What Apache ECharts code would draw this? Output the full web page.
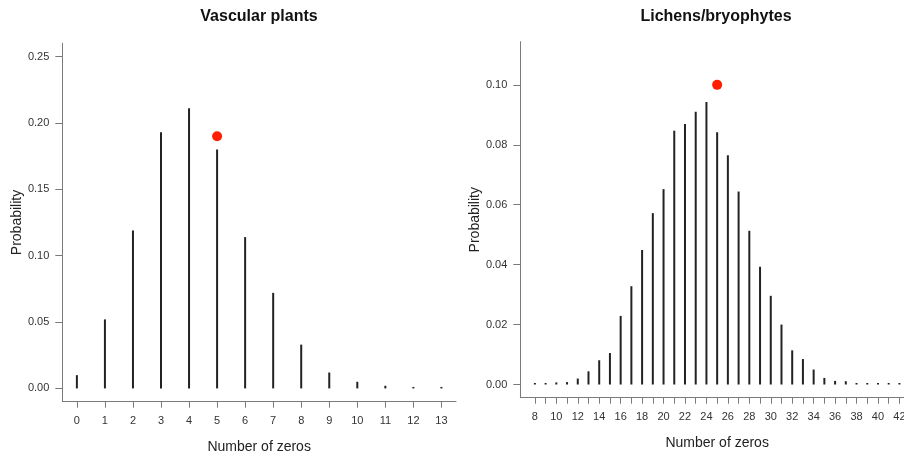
<!DOCTYPE html>
<html>
<head>
<meta charset="utf-8">
<script src="https://cdn.jsdelivr.net/npm/echarts@6/dist/echarts.min.js"></script>
<style>html,body{margin:0;padding:0;background:#fff;}#c{width:904px;height:457px;}</style>
</head>
<body>
<div id="c"></div>
<script>
// Vascular plants
const vascularX = [0,1,2,3,4,5,6,7,8,9,10,11,12,13];
const vascularP = [0.010,0.052,0.119,0.193,0.211,0.180,0.114,0.072,0.033,0.012,0.005,0.002,0.001,0.0005];
const vascularObs = [5, 0.190];
const vascularYTicks = [0,0.05,0.10,0.15,0.20,0.25];

// Lichens/bryophytes
const lichenX = [8,9,10,11,12,13,14,15,16,17,18,19,20,21,22,23,24,25,26,27,28,29,30,31,32,33,34,35,36,37,38,39,40,41,42];
const lichenP = [0.0002,0.0002,0.0007,0.0008,0.0020,0.0044,0.0081,0.0105,0.0229,0.0328,0.0449,0.0572,0.0652,0.0847,0.0869,0.0910,0.0943,0.0842,0.0765,0.0644,0.0513,0.0393,0.0296,0.0200,0.0114,0.0085,0.0050,0.0022,0.0012,0.0011,0.0002,0.0004,0.0002,0.0002,0.0002];
const lichenObs = [25, 0.100];
const lichenYTicks = [0,0.02,0.04,0.06,0.08,0.10];
const lichenXLabels = [8,10,12,14,16,18,20,22,24,26,28,30,32,34,36,38,40,42];

const axisColor = '#7a7a7a';
const labelColor = '#333';
const font = 'Liberation Sans, Arial, Helvetica, sans-serif';

function xAxisDef(gridIndex, min, max, ticks, labels) {
  return {
    type: 'value', gridIndex, min, max,
    name: 'Number of zeros', nameLocation: 'middle', nameGap: 38,
    nameTextStyle: {fontSize: 14, color: '#222', fontFamily: font},
    axisLine: {show: true, onZero: false, lineStyle: {color: axisColor, width: 1}},
    axisTick: {show: true, length: 6, customValues: ticks, lineStyle: {color: axisColor}},
    axisLabel: {show: true, customValues: labels, margin: 14, fontSize: 11, color: labelColor, fontFamily: font, hideOverlap: false},
    splitLine: {show: false}
  };
}
function yAxisDef(gridIndex, min, max, ticks) {
  return {
    type: 'value', gridIndex, min, max,
    name: 'Probability', nameLocation: 'middle', nameGap: 38,
    nameTextStyle: {fontSize: 14, color: '#222', fontFamily: font},
    axisLine: {show: true, onZero: false, lineStyle: {color: axisColor, width: 1}},
    axisTick: {show: true, length: 7, customValues: ticks, lineStyle: {color: axisColor}},
    axisLabel: {show: true, customValues: ticks, margin: 13, fontSize: 11, color: labelColor, fontFamily: font,
      formatter: v => v.toFixed(2)},
    splitLine: {show: false}
  };
}

const chart = echarts.init(document.getElementById('c'), null, {renderer: 'canvas'});
chart.setOption({
  animation: false,
  backgroundColor: '#fff',
  title: [
    {text: 'Vascular plants', left: 259, top: 9, textAlign: 'center', padding: 0,
      textStyle: {fontSize: 16, fontWeight: 'bold', color: '#111', fontFamily: font}},
    {text: 'Lichens/bryophytes', left: 716, top: 9, textAlign: 'center', padding: 0,
      textStyle: {fontSize: 16, fontWeight: 'bold', color: '#111', fontFamily: font}}
  ],
  grid: [
    {left: 62.3, top: 43.3, width: 393.7, height: 358.4, outerBoundsMode: 'none', containLabel: false},
    {left: 520.3, top: 41.7, width: 393.7, height: 356, outerBoundsMode: 'none', containLabel: false}
  ],
  xAxis: [
    xAxisDef(0, -0.52, 13.52, vascularX, vascularX),
    xAxisDef(1, 6.64, 43.36, lichenX, lichenXLabels)
  ],
  yAxis: [
    yAxisDef(0, -0.01, 0.26, vascularYTicks),
    yAxisDef(1, -0.0044, 0.1144, lichenYTicks)
  ],
  series: [
    {type: 'bar', xAxisIndex: 0, yAxisIndex: 0, barWidth: 2, barMinHeight: 1.5,
      itemStyle: {color: '#222'}, data: vascularX.map((x, i) => [x, vascularP[i]])},
    {type: 'scatter', xAxisIndex: 0, yAxisIndex: 0, symbolSize: 10,
      itemStyle: {color: '#ff1f00', opacity: 1}, data: [vascularObs]},
    {type: 'bar', xAxisIndex: 1, yAxisIndex: 1, barWidth: 2, barMinHeight: 1.5,
      itemStyle: {color: '#222'}, data: lichenX.map((x, i) => [x, lichenP[i]])},
    {type: 'scatter', xAxisIndex: 1, yAxisIndex: 1, symbolSize: 10,
      itemStyle: {color: '#ff1f00', opacity: 1}, data: [lichenObs]}
  ]
});
</script>
</body>
</html>
